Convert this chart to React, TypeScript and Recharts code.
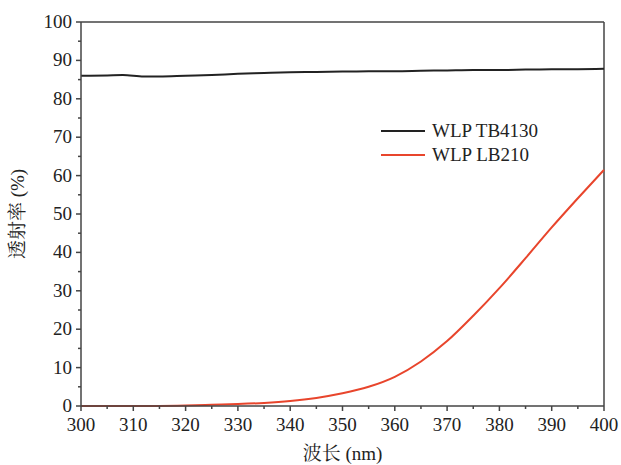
import { LineChart, Line, XAxis, YAxis, ReferenceLine } from "recharts";

const wavelengths = [300, 305, 308, 312, 315, 320, 325, 330, 335, 340, 345, 350, 355, 360, 365, 370, 375, 380, 385, 390, 395, 400];
const tb4130 = [86.0, 86.1, 86.2, 85.8, 85.8, 86.0, 86.2, 86.5, 86.7, 86.9, 87.0, 87.1, 87.2, 87.2, 87.3, 87.4, 87.5, 87.5, 87.6, 87.7, 87.7, 87.8];
const lb210 = [0, 0, 0, 0, 0, 0.1, 0.3, 0.5, 0.8, 1.3, 2.1, 3.3, 5.0, 7.6, 11.6, 16.9, 23.5, 30.7, 38.5, 46.5, 54.1, 61.5];

const xTicks = [300, 305, 310, 315, 320, 325, 330, 335, 340, 345, 350, 355, 360, 365, 370, 375, 380, 385, 390, 395, 400];
const yTicks = [0, 5, 10, 15, 20, 25, 30, 35, 40, 45, 50, 55, 60, 65, 70, 75, 80, 85, 90, 95, 100];

const data = wavelengths.map((wl, i) => ({ wl, tb: tb4130[i], lb: lb210[i] }));

const axisColor = "#444";
const font = "Liberation Serif, Noto Serif CJK SC, serif";

const XTick = (props: any) => {
  const { x, y, payload } = props;
  const major = payload.value % 10 === 0;
  return (
    <g>
      <line x1={x} x2={x} y1={y} y2={y + (major ? 5 : 3)} stroke={axisColor} strokeWidth={1.5} />
      {major && (
        <text x={x} y={y + 25} textAnchor="middle" fontSize={19} fill="#222" style={{ fontFamily: font }}>
          {payload.value}
        </text>
      )}
    </g>
  );
};

const YTick = (props: any) => {
  const { x, y, payload } = props;
  const major = payload.value % 10 === 0;
  return (
    <g>
      <line x1={x} x2={x - (major ? 5 : 3)} y1={y} y2={y} stroke={axisColor} strokeWidth={1.5} />
      {major && (
        <text x={x - 9} y={y + 6} textAnchor="end" fontSize={19} fill="#222" style={{ fontFamily: font }}>
          {payload.value}
        </text>
      )}
    </g>
  );
};

const legendItems = [
  { name: "WLP TB4130", color: "#222" },
  { name: "WLP LB210", color: "#e8452c" },
];

export default function App() {
  return (
    <div style={{ position: "absolute", left: 0, top: 0, width: 621, height: 465, background: "#fff" }}>
      <LineChart width={621} height={465} data={data} margin={{ top: 22, right: 17, left: 31, bottom: 29 }}>
        <XAxis
          dataKey="wl"
          type="number"
          domain={[300, 400]}
          ticks={xTicks}
          interval={0}
          tick={<XTick />}
          tickLine={false}
          tickSize={0}
          tickMargin={0}
          height={30}
          stroke={axisColor}
          strokeWidth={1.5}
          label={{ value: "波长 (nm)", position: "insideBottom", offset: -24, fontSize: 19, fill: "#222", style: { fontFamily: font } }}
        />
        <YAxis
          type="number"
          domain={[0, 100]}
          ticks={yTicks}
          interval={0}
          tick={<YTick />}
          tickLine={false}
          tickSize={0}
          tickMargin={0}
          width={50}
          stroke={axisColor}
          strokeWidth={1.5}
          label={{ value: "透射率 (%)", angle: -90, position: "insideLeft", offset: -14, fontSize: 19, fill: "#222", style: { textAnchor: "middle", fontFamily: font } }}
        />
        <ReferenceLine y={100} stroke={axisColor} strokeWidth={1.5} />
        <ReferenceLine x={400} stroke={axisColor} strokeWidth={1.5} />
        <Line type="monotone" dataKey="tb" stroke="#222" strokeWidth={2} dot={false} isAnimationActive={false} />
        <Line type="monotone" dataKey="lb" stroke="#e8452c" strokeWidth={2} dot={false} isAnimationActive={false} />
      </LineChart>
      <div style={{ position: "absolute", left: 381, top: 119, fontFamily: font, fontSize: 19, color: "#222", lineHeight: "24px" }}>
        {legendItems.map((d) => (
          <div key={d.name} style={{ display: "flex", alignItems: "center" }}>
            <span style={{ display: "inline-block", width: 44, height: 2, background: d.color, marginRight: 7 }} />
            {d.name}
          </div>
        ))}
      </div>
    </div>
  );
}
